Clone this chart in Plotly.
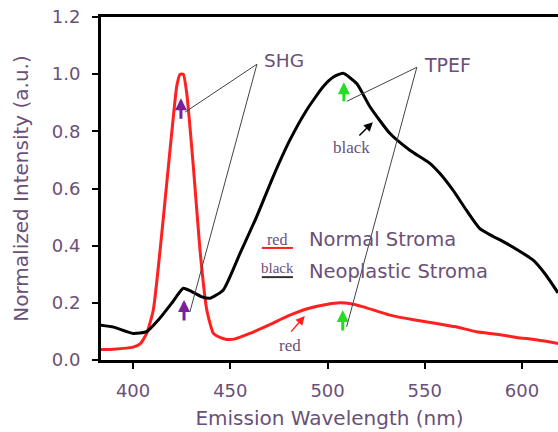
import plotly.graph_objects as go

# Emission spectra
red_wl = [383, 390, 400, 403.6, 407, 410.4, 413.9, 417.3, 420.7, 422.5, 424.2, 425.8, 427.6, 431,
          434.4, 437.9, 441.3, 445, 448.1, 452, 460, 470, 480, 490, 500, 506.4, 512, 518.4,
          532, 545, 556, 566, 576.5, 587, 597.2, 608, 618.5]
red_val = [0.037, 0.038, 0.045, 0.056, 0.093, 0.175, 0.385, 0.618, 0.851, 0.96, 1.0, 1.0, 0.933, 0.676,
           0.385, 0.175, 0.093, 0.078, 0.072, 0.073, 0.093, 0.123, 0.155, 0.18, 0.195, 0.2, 0.197, 0.186,
           0.157, 0.14, 0.128, 0.116, 0.099, 0.09, 0.079, 0.07, 0.058]

black_wl = [383, 390, 400, 407, 413, 420, 425.8, 430, 435, 439.6, 446.4, 455, 463.5, 472, 480.6,
            489.2, 497.7, 503, 508, 515, 521.8, 532, 542.3, 552.6, 557.7, 564.5, 571.4, 578.3, 592,
            605.6, 612, 618.5]
black_val = [0.122, 0.115, 0.093, 0.099, 0.14, 0.2, 0.251, 0.24, 0.222, 0.216, 0.245, 0.373, 0.501, 0.641,
             0.769, 0.874, 0.956, 0.99, 1.003, 0.967, 0.886, 0.793, 0.734, 0.688, 0.653, 0.594, 0.524,
             0.46, 0.408, 0.35, 0.3, 0.235]

x_ticks = [400, 450, 500, 550, 600]
y_ticks = [0.0, 0.2, 0.4, 0.6, 0.8, 1.0, 1.2]
y_tick_text = ["0.0", "0.2", "0.4", "0.6", "0.8", "1.0", "1.2"]

TXT = "#6a5078"
FONT = "DejaVu Sans"
SERIF = "Liberation Serif"

fig = go.Figure()
fig.add_trace(go.Scatter(x=red_wl, y=red_val, mode="lines", name="Normal Stroma",
                         line=dict(color="#ff2020", width=3, shape="spline", smoothing=0.5)))
fig.add_trace(go.Scatter(x=black_wl, y=black_val, mode="lines", name="Neoplastic Stroma",
                         line=dict(color="black", width=3, shape="spline", smoothing=0.5)))

shapes = []
# leader lines from SHG / TPEF labels
for (x0, y0, x1, y1) in [(463.7, 1.035, 426.7, 0.867), (463.7, 1.035, 429.2, 0.168),
                         (545.9, 1.024, 509.9, 0.905), (545.9, 1.024, 509.8, 0.116)]:
    shapes.append(dict(type="line", x0=x0, y0=y0, x1=x1, y1=y1, xref="x", yref="y",
                       line=dict(color="#444444", width=1)))
# legend underlines
shapes.append(dict(type="line", x0=466.2, x1=482.2, y0=0.392, y1=0.392, xref="x", yref="y",
                   line=dict(color="#ff2020", width=2)))
shapes.append(dict(type="line", x0=466.2, x1=482.2, y0=0.29, y1=0.29, xref="x", yref="y",
                   line=dict(color="#333333", width=2)))

ann = []
ann.append(dict(x=477.5, y=1.049, text="SHG", showarrow=False, font=dict(family=FONT, size=18.5, color=TXT)))
ann.append(dict(x=561.5, y=1.031, text="TPEF", showarrow=False, font=dict(family=FONT, size=19, color=TXT)))
# small direction arrows
for (x, yh, yt, col) in [(424.6, 0.916, 0.839, "#7a1f9a"), (426.2, 0.21, 0.133, "#7a1f9a"),
                         (508.4, 0.972, 0.9, "#22dd22"), (507.8, 0.175, 0.098, "#22dd22")]:
    ann.append(dict(x=x, y=yh, ax=x, ay=yt, axref="x", ayref="y", xref="x", yref="y", text="",
                    showarrow=True, arrowhead=2, arrowsize=0.8, arrowwidth=3, arrowcolor=col))
# label arrows
ann.append(dict(x=523.3, y=0.832, ax=515.6, ay=0.78, axref="x", ayref="y", text="", showarrow=True,
                arrowhead=2, arrowsize=1.2, arrowwidth=1.5, arrowcolor="black"))
ann.append(dict(x=512.5, y=0.745, text="black", showarrow=False,
                font=dict(family=SERIF, size=17, color=TXT)))
ann.append(dict(x=488.3, y=0.154, ax=480.6, ay=0.094, axref="x", ayref="y", text="", showarrow=True,
                arrowhead=2, arrowsize=1.2, arrowwidth=1.5, arrowcolor="#ff2020"))
ann.append(dict(x=480.6, y=0.052, text="red", showarrow=False,
                font=dict(family=SERIF, size=17, color=TXT)))
# custom legend
ann.append(dict(x=474.2, y=0.423, text="red", showarrow=False,
                font=dict(family=SERIF, size=16, color=TXT)))
ann.append(dict(x=489.4, y=0.423, text="Normal Stroma", showarrow=False, xanchor="left",
                font=dict(family=FONT, size=19.5, color=TXT)))
ann.append(dict(x=474.2, y=0.322, text="black", showarrow=False,
                font=dict(family=SERIF, size=15, color=TXT)))
ann.append(dict(x=489.4, y=0.31, text="Neoplastic Stroma", showarrow=False, xanchor="left",
                font=dict(family=FONT, size=19.5, color=TXT)))

fig.update_layout(
    width=558, height=432,
    margin=dict(l=101, r=0, t=17, b=72),
    paper_bgcolor="white", plot_bgcolor="white",
    showlegend=False,
    shapes=shapes, annotations=ann,
    font=dict(family=FONT, size=18, color=TXT),
    xaxis=dict(range=[383.5, 618.5], tickvals=x_ticks, showgrid=False, zeroline=False, automargin=False,
               showline=True, linecolor="black", linewidth=3, mirror=True,
               ticks="outside", ticklen=6, tickwidth=2, tickcolor="black", ticklabelstandoff=6,
               tickfont=dict(family=FONT, size=18, color=TXT),
               title=dict(text="Emission Wavelength (nm)", font=dict(family=FONT, size=20, color=TXT),
                          standoff=12)),
    yaxis=dict(range=[0, 1.2], tickvals=y_ticks, ticktext=y_tick_text, showgrid=False, zeroline=False,
               automargin=False,
               showline=True, linecolor="black", linewidth=3,
               ticks="outside", ticklen=6, tickwidth=2, tickcolor="black", ticklabelstandoff=8,
               tickfont=dict(family=FONT, size=18, color=TXT),
               title=dict(text="Normalized Intensity (a.u.)", font=dict(family=FONT, size=20, color=TXT),
                          standoff=18)),
)
fig.write_html("out.html", config={"displayModeBar": False},
               post_script="document.body.style.margin='0';document.body.style.overflow='hidden';")
